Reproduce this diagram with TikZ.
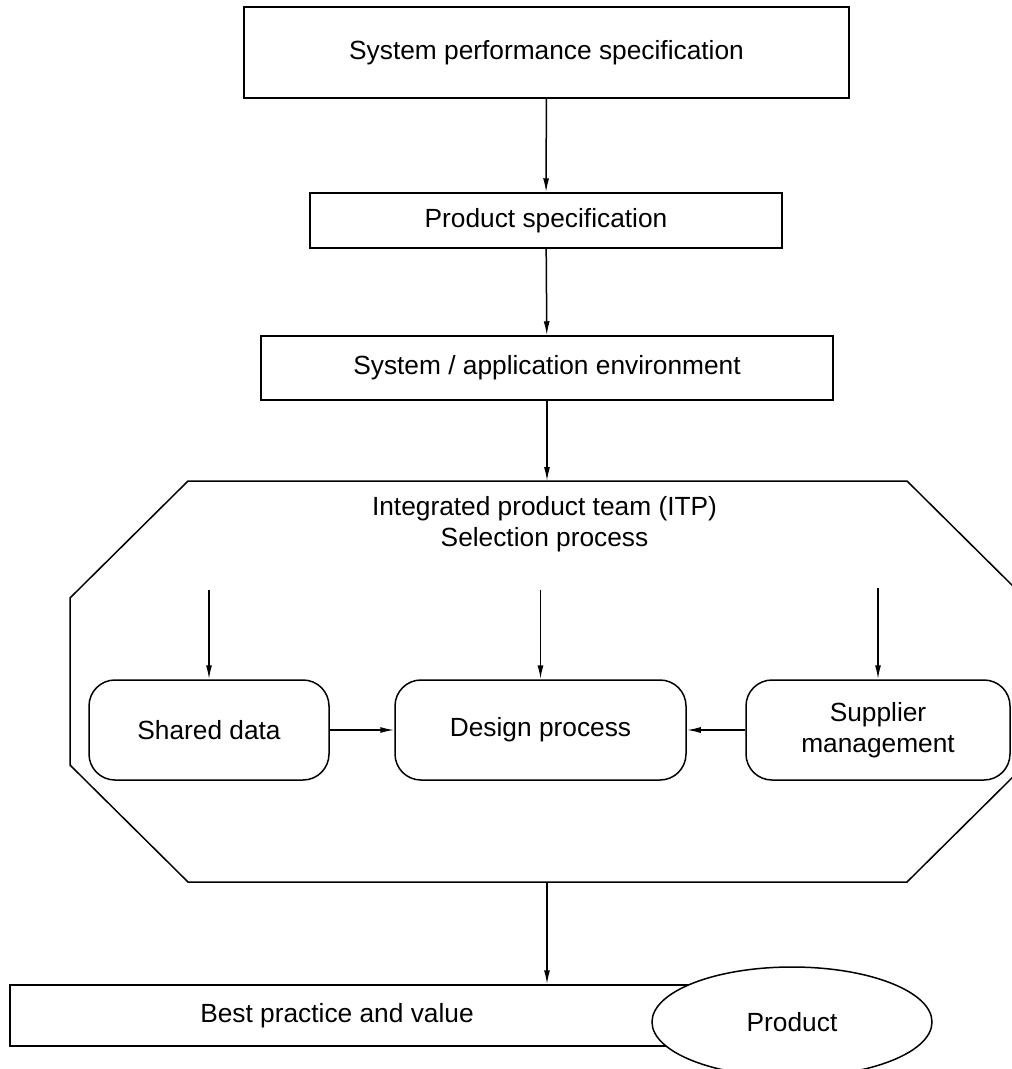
\documentclass[tikz,border=0pt]{standalone}
\usepackage{fontspec}
\setmainfont{Liberation Sans}
\usetikzlibrary{arrows.meta,shapes.geometric}
\begin{document}
\begin{tikzpicture}[x=1pt,y=-1pt,
  line width=1.5pt,
  font=\fontsize{26.3}{30.5}\selectfont,
  box/.style={draw,rectangle,inner sep=0pt,align=center},
  rbox/.style={draw,rectangle,rounded corners=26pt,inner sep=0pt,align=center},
  arr/.style={-{Latex[length=14pt,width=6pt]}}]
  \useasboundingbox (0,0) rectangle (1012,1069);
  \clip (0,0) rectangle (1012,1069);

  % top chain of specification boxes
  \node[box,minimum width=605pt,minimum height=91pt] (sps) at (546.5,52.5) {System performance specification};
  \node[box,minimum width=472pt,minimum height=55pt] (ps) at (546,220.5) {Product specification};
  \node[box,minimum width=572pt,minimum height=64pt] (env) at (547,368) {System / application environment};

  % octagonal team boundary
  \draw (188,481) -- (907,481) -- (1025,598) -- (1025,765) -- (907,882)
        -- (188,882) -- (70,765) -- (70,598) -- cycle;
  \coordinate (octtop) at (547,481);
  \coordinate (octbot) at (547,882);
  \node[align=center] (itp) at (544.5,524) {Integrated product team (ITP)\\Selection process};

  % team activities
  \node[rbox,minimum width=240pt,minimum height=100pt] (sd) at (209,730) {Shared data};
  \node[rbox,minimum width=291pt,minimum height=100pt] (dp) at (540.5,730) {Design process};
  \node[rbox,minimum width=264pt,minimum height=100pt] (sm) at (878,730) {Supplier\\management};
  \coordinate (insd) at (209,590);
  \coordinate (indp) at (540.5,590);
  \coordinate (insm) at (878,588);

  % outcome
  \node[box,minimum width=710pt,minimum height=61pt] (bp) at (365,1015.5) {};
  \node (bptext) at (337,1016) {Best practice and value};
  \node[draw,ellipse,fill=white,minimum width=280pt,minimum height=110pt,inner sep=0pt] (prod) at (792,1022) {Product};

  % connectors
  \draw[arr] (sps) -- (ps);
  \draw[arr] (ps) -- (env);
  \draw[arr] (env) -- (octtop);
  \draw[arr] (insd) -- (sd);
  \draw[arr] (indp) -- (dp);
  \draw[arr] (insm) -- (sm);
  \draw[arr] (sd.east) -- (dp.west);
  \draw[arr] (sm.west) -- (dp.east);
  \draw[arr] (octbot) -- (octbot |- bp.north);
\end{tikzpicture}
\end{document}
